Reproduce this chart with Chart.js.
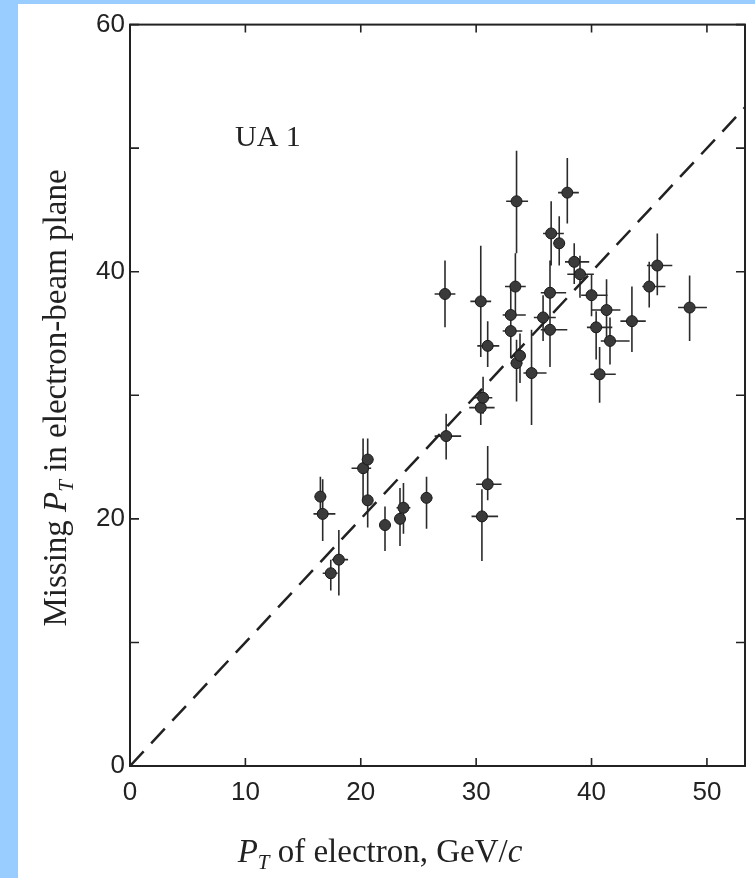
<!DOCTYPE html>
<html>
<head>
<meta charset="utf-8">
<script src="https://cdn.jsdelivr.net/npm/chart.js@4.4.0/dist/chart.umd.min.js"></script>
<style>
  html, body { margin: 0; padding: 0; background: #99ccff; }
  #wrap { position: absolute; left: 18px; top: 4px; width: 737px; height: 874px; background: #fff; }
</style>
</head>
<body>
<div id="wrap"><canvas id="uaChart"></canvas></div>
<script>
// electron pT and missing pT of each event (GeV/c)
const ptElectron = [16.5, 16.7, 17.4, 18.1, 20.2, 20.6, 20.6, 22.1, 23.4, 23.7, 25.7, 27.4, 27.3, 30.4, 30.4,
  30.6, 30.5, 31.0, 31.0, 33.0, 33.0, 33.4, 33.5, 33.5, 33.8, 34.8, 35.8, 36.4, 36.4, 36.5,
  37.2, 37.9, 38.5, 39.0, 40.0, 40.4, 40.7, 41.3, 41.6, 43.5, 45.0, 45.7, 48.5];
const ptMissing = [21.8, 20.4, 15.6, 16.7, 24.1, 24.8, 21.5, 19.5, 20.0, 20.9, 21.7, 26.7, 38.2, 37.6, 29.0,
  29.8, 20.2, 22.8, 34.0, 36.5, 35.2, 38.8, 45.7, 32.6, 33.2, 31.8, 36.3, 38.3, 35.3, 43.1,
  42.3, 46.4, 40.8, 39.8, 38.1, 35.5, 31.7, 36.9, 34.4, 36.0, 38.8, 40.5, 37.1];

// error bar ends, missing pT (vertical)
const missLow = [20.6, 18.2, 14.2, 13.8, 21.5, 22.5, 19.3, 17.4, 17.8, 18.8, 19.2, 24.8, 35.5, 33.1, 27.6,
  28.5, 16.6, 21.5, 32.3, 33.5, 33.0, 36.5, 41.5, 29.5, 31.0, 27.6, 34.4, 35.0, 32.3, 40.5,
  40.5, 43.9, 39.0, 37.9, 36.4, 32.9, 29.4, 34.4, 32.5, 33.5, 37.1, 38.1, 34.4];
const missHigh = [23.4, 23.2, 16.7, 19.1, 26.5, 26.5, 24.5, 21.0, 22.5, 22.9, 23.4, 28.5, 40.9, 42.1, 30.5,
  31.5, 22.4, 25.9, 36.0, 39.0, 37.0, 41.5, 49.8, 34.5, 35.0, 35.3, 38.1, 40.9, 37.0, 45.7,
  44.5, 49.2, 42.3, 41.3, 39.8, 36.8, 33.9, 39.4, 36.3, 38.8, 40.8, 43.1, 39.7];
// error bar ends, electron pT (horizontal)
const elecLow = [16.0, 15.9, 16.7, 17.5, 19.2, 20.1, 20.2, 21.6, 22.9, 23.1, 25.2, 26.4, 26.4, 29.5, 29.4,
  29.8, 29.6, 30.0, 30.1, 32.3, 32.3, 32.5, 32.6, 33.0, 33.3, 34.1, 35.0, 35.6, 35.6, 35.8,
  36.7, 37.1, 37.7, 37.9, 39.1, 39.6, 39.9, 40.0, 40.8, 42.5, 44.4, 44.8, 47.5];
const elecHigh = [17.0, 17.8, 18.0, 18.9, 20.9, 21.1, 21.0, 22.6, 23.9, 24.3, 26.2, 28.7, 28.2, 31.3, 31.6,
  31.4, 31.9, 32.2, 32.0, 34.3, 34.0, 34.3, 34.5, 34.0, 34.3, 36.1, 36.9, 37.8, 37.9, 37.6,
  37.7, 38.9, 39.8, 40.2, 41.4, 41.8, 42.1, 42.5, 43.3, 44.7, 46.4, 47.0, 50.0];

// tick labels
const xTickLabels = [0, 10, 20, 30, 40, 50];
const yTickLabels = [0, 20, 40, 60];

// dashed line: missing pT = electron pT
const diagX = [0, 53.3];
const diagY = [0, 53.3];

let points = [];
for (let i = 0; i < ptElectron.length; i++) {
  points.push({x: ptElectron[i], y: ptMissing[i]});
}
let diag = diagX.map((v, i) => ({x: v, y: diagY[i]}));

const serif = '"Liberation Serif", "Times New Roman", serif';

// error bars under the markers
const errorBars = {
  id: 'errorBars',
  beforeDatasetsDraw(chart) {
    let ctx = chart.ctx, xs = chart.scales.x, ys = chart.scales.y;
    ctx.save();
    ctx.strokeStyle = '#2b2b2b';
    ctx.lineWidth = 1.6;
    ctx.beginPath();
    for (let i = 0; i < ptElectron.length; i++) {
      let px = xs.getPixelForValue(ptElectron[i]);
      let py = ys.getPixelForValue(ptMissing[i]);
      ctx.moveTo(px, ys.getPixelForValue(missLow[i]));
      ctx.lineTo(px, ys.getPixelForValue(missHigh[i]));
      ctx.moveTo(xs.getPixelForValue(elecLow[i]), py);
      ctx.lineTo(xs.getPixelForValue(elecHigh[i]), py);
    }
    ctx.stroke();
    ctx.restore();
  }
};

function drawParts(ctx, parts, cx, y) {
  let total = 0;
  parts.forEach(p => { ctx.font = p.font; p.w = ctx.measureText(p.text).width; total += p.w; });
  let x = cx - total / 2;
  parts.forEach(p => {
    ctx.font = p.font;
    ctx.fillText(p.text, x, y + (p.dy || 0));
    x += p.w;
  });
}

// box, inward ticks on all four sides, titles and the UA 1 label
const frame = {
  id: 'frame',
  afterDatasetsDraw(chart) {
    const ctx = chart.ctx, a = chart.chartArea, xs = chart.scales.x, ys = chart.scales.y;
    ctx.save();
    ctx.strokeStyle = '#222';
    ctx.lineWidth = 2;
    ctx.strokeRect(a.left, a.top, a.right - a.left, a.bottom - a.top);
    ctx.lineWidth = 1.6;
    ctx.beginPath();
    xs.ticks.forEach(t => {
      let p = xs.getPixelForValue(t.value);
      ctx.moveTo(p, a.bottom); ctx.lineTo(p, a.bottom - 8);
      ctx.moveTo(p, a.top); ctx.lineTo(p, a.top + 8);
    });
    ys.ticks.forEach(t => {
      let p = ys.getPixelForValue(t.value);
      ctx.moveTo(a.left, p); ctx.lineTo(a.left + 9, p);
      ctx.moveTo(a.right, p); ctx.lineTo(a.right - 9, p);
    });
    ctx.stroke();

    ctx.fillStyle = '#222';
    ctx.textBaseline = 'alphabetic';
    ctx.textAlign = 'left';
    ctx.font = '30px ' + serif;
    ctx.fillText('UA 1', xs.getPixelForValue(9.1), ys.getPixelForValue(50.2));

    // x title
    drawParts(ctx, [
      {text: 'P', font: 'italic 33px ' + serif},
      {text: 'T', font: 'italic 21px ' + serif, dy: 7},
      {text: ' of electron, GeV/', font: '33px ' + serif},
      {text: 'c', font: 'italic 33px ' + serif}
    ], 362, 858);

    // y title
    ctx.translate(48, 394);
    ctx.rotate(-Math.PI / 2);
    drawParts(ctx, [
      {text: 'Missing ', font: '33px ' + serif},
      {text: 'P', font: 'italic 33px ' + serif},
      {text: 'T', font: 'italic 21px ' + serif, dy: 7},
      {text: ' in electron-beam plane', font: '33px ' + serif}
    ], 0, 0);
    ctx.restore();
  }
};

let ctx = document.getElementById('uaChart').getContext('2d');
let chart = new Chart(ctx, {
  type: 'scatter',
  data: {
    datasets: [{
      data: points,
      pointStyle: 'circle',
      pointRadius: 5.5,
      backgroundColor: '#3a3a3a',
      borderColor: '#1a1a1a',
      borderWidth: 1
    }, {
      data: diag,
      showLine: true,
      pointRadius: 0,
      borderColor: '#222',
      borderWidth: 2.5,
      borderDash: [20, 11]
    }]
  },
  options: {
    responsive: true,
    maintainAspectRatio: false,
    animation: false,
    layout: { padding: { left: 0, right: 10, top: 14, bottom: 0 } },
    plugins: { legend: { display: false }, tooltip: { enabled: false } },
    scales: {
      x: {
        type: 'linear',
        min: 0,
        max: 53.3,
        grid: { drawOnChartArea: false, drawTicks: false },
        border: { display: true, color: '#222', width: 2 },
        ticks: {
          stepSize: 10,
          includeBounds: false,
          padding: 11,
          color: '#222',
          font: { family: '"Liberation Sans", Arial, sans-serif', size: 26 },
          callback: v => xTickLabels.includes(v) ? String(v) : ''
        },
        afterFit: s => { s.height = 112; }
      },
      y: {
        type: 'linear',
        min: 0,
        max: 60,
        grid: { drawOnChartArea: false, drawTicks: false },
        border: { display: true, color: '#222', width: 2 },
        ticks: {
          stepSize: 10,
          padding: 5,
          color: '#222',
          font: { family: '"Liberation Sans", Arial, sans-serif', size: 26 },
          callback: v => yTickLabels.includes(v) ? String(v) : ''
        },
        afterFit: s => { s.width = 112; }
      }
    }
  },
  plugins: [errorBars, frame]
});
</script>
</body>
</html>
